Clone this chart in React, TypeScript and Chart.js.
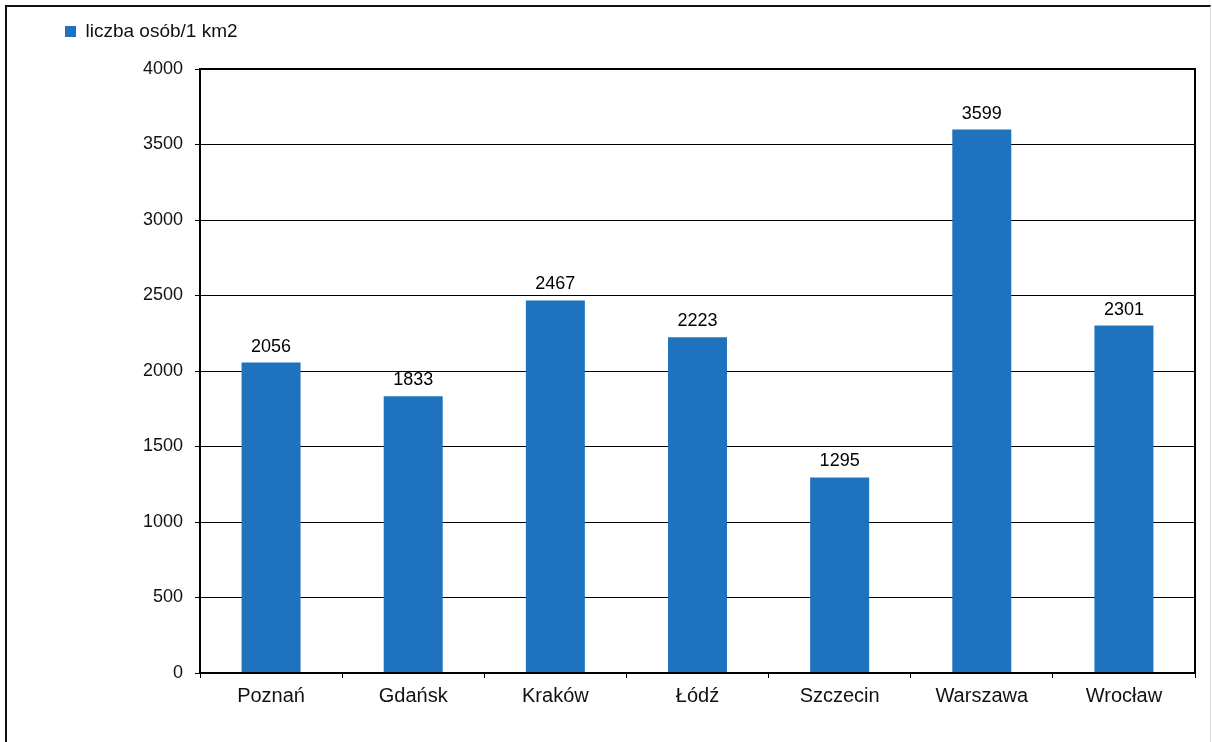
import React, { useEffect, useRef } from "react";
import { Chart, registerables } from "chart.js";

Chart.register(...registerables);

const categories = ["Poznań", "Gdańsk", "Kraków", "Łódź", "Szczecin", "Warszawa", "Wrocław"];
const seriesName = "liczba osób/1 km2";
const density = [2056, 1833, 2467, 2223, 1295, 3599, 2301];
const yTicksMin = 0;
const yTicksMax = 4000;
const yTicksStep = 500;

const BAR_COLOR = "#1f72bd";
const FONT = "'Liberation Sans', Arial, sans-serif";

const legendSpacer = {
  id: "legendSpacer",
  beforeInit(chart: any) {
    const lg = chart.legend;
    if (!lg) return;
    const origFit = lg.fit;
    lg.fit = function () {
      origFit.call(this);
      this.height += 18;
    };
  },
};

const frame = {
  id: "frame",
  afterDatasetsDraw(chart: any) {
    const { ctx, chartArea } = chart;
    ctx.save();
    ctx.strokeStyle = "#000";
    ctx.lineWidth = 2;
    ctx.strokeRect(chartArea.left, chartArea.top, chartArea.right - chartArea.left, chartArea.bottom - chartArea.top);
    ctx.restore();
  },
};

const valueLabels = {
  id: "valueLabels",
  afterDatasetsDraw(chart: any) {
    const { ctx } = chart;
    const meta = chart.getDatasetMeta(0);
    ctx.save();
    ctx.font = `18px ${FONT}`;
    ctx.fillStyle = "#000";
    ctx.textAlign = "center";
    ctx.textBaseline = "alphabetic";
    meta.data.forEach((el: any, i: number) => {
      ctx.fillText(String(chart.data.datasets[0].data[i]), el.x, el.y - 11);
    });
    ctx.restore();
  },
};

export default function App() {
  const ref = useRef<HTMLCanvasElement | null>(null);
  useEffect(() => {
    if (!ref.current) return;
    const chart = new Chart(ref.current, {
      type: "bar",
      data: {
        labels: categories,
        datasets: [
          {
            label: seriesName,
            data: density,
            backgroundColor: BAR_COLOR,
            borderWidth: 0,
            barPercentage: 0.415,
            categoryPercentage: 1,
          },
        ],
      },
      options: {
        animation: false,
        responsive: false,
        maintainAspectRatio: false,
        layout: { padding: { left: 55, top: 12, right: 17, bottom: 0 } },
        plugins: {
          legend: {
            position: "top",
            align: "start",
            labels: {
              boxWidth: 11,
              boxHeight: 11,
              padding: 10,
              color: "#111",
              font: { family: FONT, size: 19 },
            },
          },
          tooltip: { enabled: false },
        },
        scales: {
          x: {
            grid: {
              offset: true,
              drawOnChartArea: false,
              drawTicks: true,
              tickLength: 5,
              color: "#000",
              lineWidth: 1,
            },
            border: { color: "#000", width: 2 },
            ticks: { color: "#111", padding: 6, font: { family: FONT, size: 20 } },
            afterFit(scale: any) {
              scale.height = 69;
            },
          },
          y: {
            min: yTicksMin,
            max: yTicksMax,
            ticks: {
              stepSize: yTicksStep,
              color: "#111",
              padding: 12,
              font: { family: FONT, size: 18 },
              callback: (v: any) => String(v),
            },
            grid: { color: "#000", lineWidth: 1, tickLength: 5 },
            border: { color: "#000", width: 2 },
            afterFit(scale: any) {
              scale.width = 145;
            },
          },
        },
      },
      plugins: [legendSpacer, frame, valueLabels],
    });
    return () => chart.destroy();
  }, []);

  return (
    <div style={{ position: "fixed", left: 0, top: 0, width: 1212, height: 742, overflow: "hidden", background: "#fff" }}>
      <div
        style={{
          position: "absolute",
          left: 5,
          top: 5,
          width: 1206,
          height: 780,
          borderTop: "2px solid #111",
          borderLeft: "2px solid #111",
          borderRight: "1px solid #ddd",
          boxSizing: "border-box",
        }}
      />
      <canvas ref={ref} width={1212} height={742} style={{ position: "absolute", left: 0, top: 0 }} />
    </div>
  );
}
